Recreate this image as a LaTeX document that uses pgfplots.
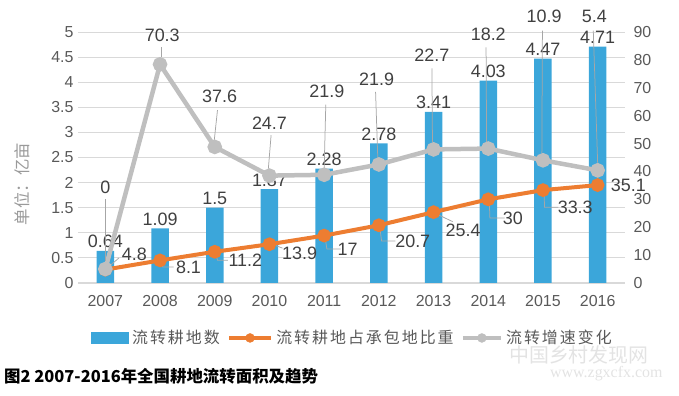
\documentclass[border=0pt]{standalone}
\usepackage{fontspec}
\setmainfont{Liberation Sans}
\newfontfamily\cjk{Noto Sans CJK SC}
\newfontfamily\cjkls[LetterSpace=12.5]{Noto Sans CJK SC}
\newfontfamily\wmserif{Liberation Serif}
\usepackage{pgfplots}
\pgfplotsset{compat=1.18}
\definecolor{barblue}{HTML}{3BA6DA}
\definecolor{lineorange}{HTML}{ED7D31}
\definecolor{linegray}{HTML}{BFBFBF}
\definecolor{gridgray}{HTML}{D9D9D9}
\definecolor{tickgray}{HTML}{595959}
\definecolor{labelgray}{HTML}{404040}
\definecolor{leadgray}{HTML}{A6A6A6}
\definecolor{ylabgray}{HTML}{9A9A9A}
\tikzset{lab/.style={font=\fontsize{18}{20}\selectfont, text=labelgray}}
\begin{document}
\begin{tikzpicture}
\useasboundingbox (0,0) rectangle (679bp,396bp);
\pgfplotsset{
  common/.style={at={(78bp,113bp)}, anchor=south west, width=547bp, height=251bp,
    scale only axis, xmin=-0.5, xmax=9.5,
    tick style={draw=none}, major tick length=0pt,
    ticklabel style={font=\fontsize{16}{18}\selectfont, text=tickgray},
    /pgf/number format/assume math mode=true},
}
% ---------- bars (left axis) ----------
\begin{axis}[common, ybar, bar width=17.5bp,
  ymin=0, ymax=5, ytick={0,0.5,1,1.5,2,2.5,3,3.5,4,4.5,5},
  xtick={0,1,2,3,4,5,6,7,8,9},
  xticklabels={2007,2008,2009,2010,2011,2012,2013,2014,2015,2016},
  ymajorgrids, grid style={gridgray, line width=0.8bp},
  axis x line*=bottom, axis y line*=left,
  y axis line style={draw=none}, x axis line style={-, gridgray, line width=1bp},
  xticklabel style={yshift=-8.5bp}, yticklabel style={xshift=-1bp},
  nodes near coords, point meta=explicit symbolic,
  every node near coord/.append style={lab, inner sep=2.5bp}]
\addplot[fill=barblue, draw=none] coordinates {
  (0,0.64)[0.64] (1,1.09)[1.09] (2,1.5)[1.5] (3,1.87)[1.87] (4,2.28)[2.28]
  (5,2.78)[2.78] (6,3.41)[3.41] (7,4.03)[4.03] (8,4.47)[4.47] (9,4.71)[4.71]};
\end{axis}
% ---------- lines (right axis) ----------
\begin{axis}[common, ymin=0, ymax=90, ytick={0,10,20,30,40,50,60,70,80,90},
  axis y line*=right, axis x line=none, y axis line style={draw=none},
  yticklabel style={xshift=5bp}, clip=false,
  legend style={at={(0.0238,-0.219)}, anchor=west, draw=none, fill=none,
    inner sep=0pt, font=\cjkls\fontsize{16}{18}\selectfont, text=tickgray,
    nodes={inner xsep=3.5bp, inner ysep=1bp},
    legend columns=3, /tikz/every even column/.append style={column sep=4bp}},
  legend cell align=left]
\addlegendimage{legend image code/.code={\fill[barblue] (0bp,-5.5bp) rectangle (37bp,5.5bp);}}
\addlegendentry{流转耕地数}
\addlegendimage{legend image code/.code={\draw[lineorange, line width=3.5bp] (0bp,0bp)--(42bp,0bp); \fill[lineorange] (21bp,0bp) circle (4.5bp);}}
\addlegendentry{流转耕地占承包地比重}
\addlegendimage{legend image code/.code={\draw[linegray, line width=3.5bp] (0bp,0bp)--(38bp,0bp); \fill[linegray] (19bp,0bp) circle (4.5bp);}}
\addlegendentry{流转增速变化}

\addplot[forget plot, lineorange, line width=4bp, mark=*, mark size=4.8bp,
  mark options={fill=lineorange, draw=none}] coordinates {
  (0,4.8) (1,8.1) (2,11.2) (3,13.9) (4,17) (5,20.7) (6,25.4) (7,30) (8,33.3) (9,35.1)};
\addplot[forget plot, linegray, line width=4.5bp, mark=*, mark size=5bp,
  mark options={fill=linegray, draw=none}] coordinates {
  (0,5) (1,78.4) (2,48.8) (3,38.5) (4,38.8) (5,42.5) (6,47.9) (7,48.2) (8,44.0) (9,40.4)};

% leader lines
\begin{scope}[leadgray, line width=0.75bp]
\draw (axis cs:0,30) -- (axis cs:0,8);
\draw (axis cs:1.03,84.5) -- (axis cs:1.03,81);
\draw (axis cs:2.05,62) -- (axis cs:1.99,51);
\draw (axis cs:3.03,53) -- (axis cs:2.98,41);
\draw (axis cs:4.03,64) -- (axis cs:4.0,41);
\draw (axis cs:4.94,68.5) -- (axis cs:4.98,45);
\draw (axis cs:5.97,77) -- (axis cs:5.98,50.5);
\draw (axis cs:6.96,84.5) -- (axis cs:6.97,50.5);
\draw (axis cs:7.99,90.5) -- (axis cs:7.98,46.5);
\draw (axis cs:8.92,90.5) -- (axis cs:9.0,43);
\draw (axis cs:0.1,6.5) -- (axis cs:0.25,9);
\draw (axis cs:1.02,7.5) -- (axis cs:1.05,5.7) -- (axis cs:1.25,5.7);
\draw (axis cs:2.02,10.5) -- (axis cs:2.05,8.2) -- (axis cs:2.24,8.2);
\draw (axis cs:3.05,13.9) -- (axis cs:3.24,12.5);
\draw (axis cs:4.02,16) -- (axis cs:4.05,12.2) -- (axis cs:4.3,12.2);
\draw (axis cs:5.02,19.5) -- (axis cs:5.05,15.1) -- (axis cs:5.3,15.1);
\draw (axis cs:6.05,24.8) -- (axis cs:6.35,22);
\draw (axis cs:7.02,28.5) -- (axis cs:7.03,23.3) -- (axis cs:7.3,23.3);
\draw (axis cs:8.02,32) -- (axis cs:8.03,27.2) -- (axis cs:8.28,27.2);
\end{scope}

% data labels of the lines
\addplot[forget plot, draw=none, mark=none, nodes near coords, point meta=explicit symbolic,
  every node near coord/.append style={lab, anchor=center, inner sep=0pt}] coordinates {
  (0,34.4)[0] (1.04,88.9)[70.3] (2.09,67.0)[37.6] (3.0,57.4)[24.7] (4.05,68.8)[21.9]
  (4.96,73.1)[21.9] (5.97,81.8)[22.7] (7.0,89.3)[18.2] (8.02,95.7)[10.9] (8.94,95.7)[5.4]};
\addplot[forget plot, draw=none, mark=none, nodes near coords, point meta=explicit symbolic,
  every node near coord/.append style={lab, anchor=center, inner sep=0pt}] coordinates {
  (0.53,10.4)[4.8] (1.52,5.7)[8.1] (2.56,8.2)[11.2] (3.55,10.8)[13.9] (4.43,12.2)[17]
  (5.62,15.1)[20.7] (6.54,19.0)[25.4] (7.45,23.3)[30] (8.59,27.2)[33.3] (9.56,35.1)[35.1]};
\end{axis}
\node[rotate=90, font=\cjk\fontsize{16.5}{19}\selectfont, text=ylabgray] at (22bp,212bp) {单位：亿亩};
\node[anchor=west, inner sep=0pt, font=\cjk\bfseries\fontsize{16.5}{18}\selectfont] at (4bp,20bp) {图2 2007-2016年全国耕地流转面积及趋势};
\node[anchor=west, inner sep=0pt, text=black!11, font=\cjk\fontsize{20}{22}\selectfont] at (509bp,41bp) {中国乡村发现网};
\node[anchor=west, inner sep=0pt, text=black!11, font=\wmserif\fontsize{16}{18}\selectfont] at (550bp,22bp) {www.zgxcfx.com};
\end{tikzpicture}
\end{document}
